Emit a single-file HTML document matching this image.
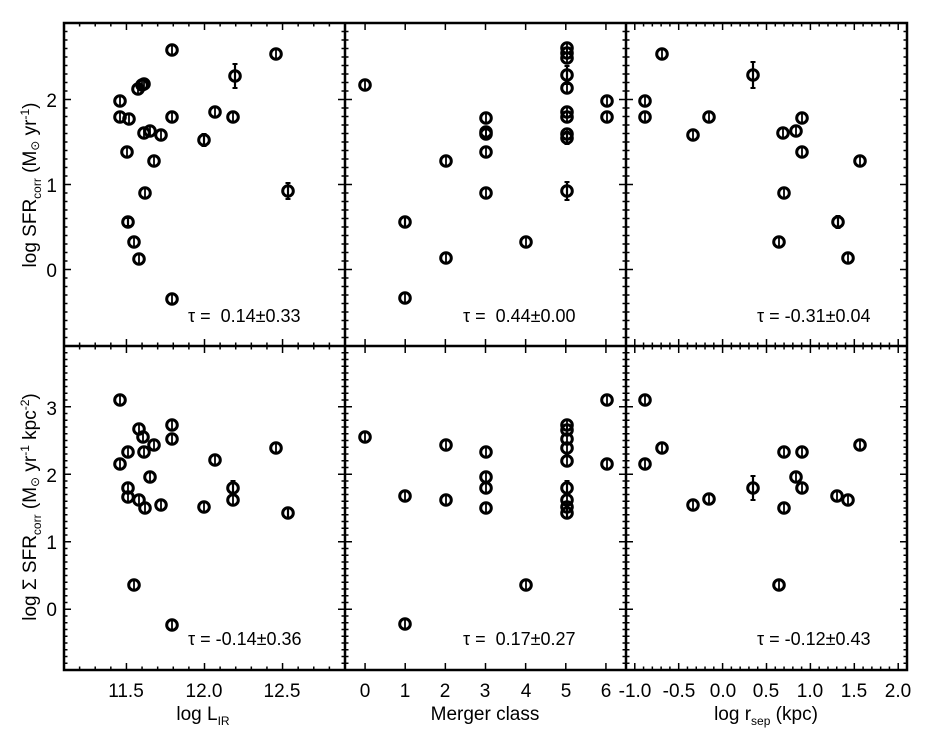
<!DOCTYPE html>
<html><head><meta charset="utf-8"><style>
body{margin:0;background:#fff;}
svg{display:block;font-family:"Liberation Sans",sans-serif;}
</style></head><body>
<svg id="s" width="947" height="730" viewBox="0 0 947 730" xmlns="http://www.w3.org/2000/svg">
<g id="g"></g>
<g font-size="19" fill="#000" text-anchor="end">
<text x="57" y="107">2</text><text x="57" y="192">1</text><text x="57" y="277">0</text>
<text x="57" y="415">3</text><text x="57" y="482">2</text><text x="57" y="549">1</text><text x="57" y="616">0</text>
</g>
<g font-size="19" fill="#000" text-anchor="middle">
<text x="126" y="697">11.5</text><text x="204" y="697">12.0</text><text x="282" y="697">12.5</text>
<text x="365" y="697">0</text><text x="405" y="697">1</text><text x="445" y="697">2</text><text x="485" y="697">3</text><text x="526" y="697">4</text><text x="566" y="697">5</text><text x="606" y="697">6</text>
<text x="635" y="697">-1.0</text><text x="679" y="697">-0.5</text><text x="723" y="697">0.0</text><text x="766" y="697">0.5</text><text x="810" y="697">1.0</text><text x="854" y="697">1.5</text><text x="898" y="697">2.0</text>
<text x="203" y="720">log L<tspan font-size="12" dy="5">IR</tspan></text>
<text x="485" y="720">Merger class</text>
<text x="766" y="720">log r<tspan font-size="12" dy="5">sep</tspan><tspan dy="-5"> (kpc)</tspan></text>
</g>
<g font-size="18" fill="#000" style="white-space:pre">
<text x="188" y="322" xml:space="preserve">τ =  0.14±0.33</text>
<text x="463" y="322" xml:space="preserve">τ =  0.44±0.00</text>
<text x="757" y="322" xml:space="preserve">τ = -0.31±0.04</text>
<text x="188" y="645" xml:space="preserve">τ = -0.14±0.36</text>
<text x="463" y="645" xml:space="preserve">τ =  0.17±0.27</text>
<text x="757" y="645" xml:space="preserve">τ = -0.12±0.43</text>
</g>
<g font-size="19" fill="#000" text-anchor="middle">
<text transform="translate(36,185) rotate(-90)">log SFR<tspan font-size="12" dy="5">corr</tspan><tspan dy="-5"> (M</tspan><tspan font-size="12" dy="3">⊙</tspan><tspan dy="-3"> yr</tspan><tspan font-size="12" dy="-7">-1</tspan><tspan dy="7">)</tspan></text>
<text transform="translate(36,507) rotate(-90)">log Σ SFR<tspan font-size="12" dy="5">corr</tspan><tspan dy="-5"> (M</tspan><tspan font-size="12" dy="3">⊙</tspan><tspan dy="-3"> yr</tspan><tspan font-size="12" dy="-7">-1</tspan><tspan dy="7"> kpc</tspan><tspan font-size="12" dy="-7">-2</tspan><tspan dy="7">)</tspan></text>
</g>
</svg>
<script>
var g=document.getElementById('g'),h='';
function L(x1,y1,x2,y2,w){h+='<line x1="'+x1+'" y1="'+y1+'" x2="'+x2+'" y2="'+y2+'" stroke="#000" stroke-width="'+(w||1.5)+'"/>';}
var X0=[64,345,626],X1=[345,626,907],Y0=[23,346],Y1=[346,670];
var xs=[[11.1,12.9,0.1,0.5],[-0.5,6.5,0.5,1],[-1.1,2.1,0.1,0.5]];
for(var p=0;p<3;p++){var a=xs[p][0],b=xs[p][1],st=xs[p][2],mj=xs[p][3];
 for(var v=Math.ceil(a/st-1e-6)*st;v<=b+1e-6;v+=st){var x=X0[p]+(v-a)/(b-a)*(X1[p]-X0[p]);var isM=Math.abs(v/mj-Math.round(v/mj))<1e-4;var len=isM?7:3.5;if(p==1&&!isM)continue;
  for(var r=0;r<2;r++){L(x,Y0[r],x,Y0[r]+len);L(x,Y1[r],x,Y1[r]-len);}}}
var ys=[[-0.9,2.9],[-0.9,3.9]];
for(var r=0;r<2;r++){var a=ys[r][0],b=ys[r][1];
 for(var v=Math.ceil(a/0.1-1e-6)*0.1;v<=b+1e-6;v+=0.1){var y=Y1[r]-(v-a)/(b-a)*(Y1[r]-Y0[r]);var isM=Math.abs(v-Math.round(v))<1e-4;var len=isM?7:3.5;
  for(var p=0;p<3;p++){L(X0[p],y,X0[p]+len,y);L(X1[p],y,X1[p]-len,y);}}}
h+='<rect x="64" y="23" width="843" height="647" fill="none" stroke="#000" stroke-width="2.5"/>';
L(64,346,907,346,2.5);L(345,23,345,670,2.5);L(626,23,626,670,2.5);
function P(x,y,e){if(e){L(x,y-e,x,y+e,2.2);L(x-2.5,y-e,x+2.5,y-e,2);L(x-2.5,y+e,x+2.5,y+e,2);}
 h+='<circle cx="'+x+'" cy="'+y+'" r="5.3" fill="none" stroke="#000" stroke-width="3"/>';L(x,y-5,x,y+5,1.8);}
var pts=[[120,101],[120,117],[129,119],[127,152],[138,89],[142,85],[144,84],[144,133],[150,131],[154,161],[161,135],[145,193],[128,222,4],[134,242],[139,259],[172,50],[172,117],[172,299],[204,140,6],[215,112],[235,76,12],[233,117],[276,54],[288,191,8],
[120,400],[120,464],[128,452],[128,488],[128,497],[139,429],[143,437],[144,452],[154,445],[150,477],[139,500],[145,508],[161,505],[172,425],[172,439],[134,585],[172,625],[204,507],[215,460],[233,488,7],[233,500],[276,448],[288,513,5],
[365,85],[405,222,5],[405,298],[446,161],[446,258],[486,118],[486,132],[486,134],[486,152],[486,193],[526,242],[567,48],[567,53],[567,58],[567,75,9],[567,88],[567,112],[567,117],[567,134],[567,138,6],[567,191,9],[607,101],[607,117],
[645,101],[645,117],[662,54],[693,135],[709,117],[753,75,13],[783,133],[796,131],[802,118],[802,152],[784,193],[779,242],[838,222,6],[848,258],[860,161],
[365,437],[405,496],[405,624],[446,445],[446,500],[486,452],[486,477],[486,488],[486,508],[526,585],[567,425],[567,430],[567,439],[567,448],[567,461],[567,488,7],[567,500],[567,507],[567,513,5],[607,400],[607,464],
[645,400],[645,464],[662,448],[693,505],[709,499],[753,488,12],[784,452],[802,452],[796,477],[802,488],[784,508],[779,585],[837,496],[848,500],[860,445]];
pts.forEach(function(q){P(q[0],q[1],q[2]);});
g.innerHTML=h;
</script>
</body></html>
